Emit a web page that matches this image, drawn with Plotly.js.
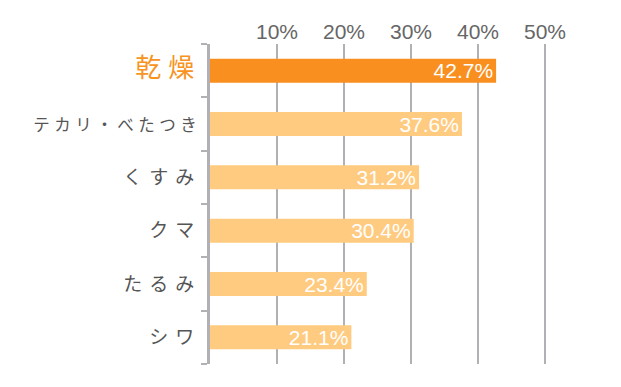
<!DOCTYPE html>
<html>
<head>
<meta charset="utf-8">
<script src="https://cdn.plot.ly/plotly-3.0.1.min.js"></script>
<style>
html,body{margin:0;padding:0;background:#fff;}
#chart{width:621px;height:387px;}
.ytick text{letter-spacing:7px;}
</style>
</head>
<body>
<div id="chart"></div>
<script>
const categories = ["乾燥", "テカリ・べたつき", "くすみ", "クマ", "たるみ", "シワ"];
const values = [42.7, 37.6, 31.2, 30.4, 23.4, 21.1];
const xTickVals = [10, 20, 30, 40, 50];
const xTickText = ["10%", "20%", "30%", "40%", "50%"];

const barColors = categories.map((c, i) => i === 0 ? "#f98f1f" : "#ffcb80");
const yTickText = categories.map((c, i) => {
  if (i === 0) return '<span style="color:#f7931e;font-size:26px">' + c + '</span>';
  if (c.length > 4) return '<span style="font-size:16.5px;letter-spacing:4.5px">' + c + '</span>';
  return c;
});

const trace = {
  type: "bar",
  orientation: "h",
  y: categories,
  x: values,
  marker: {color: barColors},
  text: values.map(v => v.toFixed(1) + "%"),
  textposition: "inside",
  insidetextanchor: "end",
  constraintext: "none",
  textfont: {color: "#ffffff", size: 21, family: "Liberation Sans, Arial, sans-serif"},
  cliponaxis: false,
  hoverinfo: "none"
};

const layout = {
  width: 621,
  height: 387,
  margin: {l: 210, r: 9, t: 44, b: 23},
  paper_bgcolor: "#ffffff",
  plot_bgcolor: "#ffffff",
  showlegend: false,
  bargap: 0.55,
  xaxis: {
    side: "top",
    range: [0, 60],
    tickvals: xTickVals,
    ticktext: xTickText,
    showgrid: true,
    gridcolor: "#b3b0b5",
    gridwidth: 2,
    zeroline: false,
    showline: false,
    ticks: "",
    ticklabelstandoff: 0,
    tickfont: {size: 21, color: "#666666", family: "Liberation Sans, Arial, sans-serif"},
    fixedrange: true
  },
  yaxis: {
    type: "category",
    autorange: false,
    range: [5.5, -0.5],
    tickvals: categories,
    ticktext: yTickText,
    tickson: "boundaries",
    ticks: "outside",
    ticklen: 6,
    tickwidth: 2,
    tickcolor: "#b3b0b5",
    showline: true,
    linecolor: "#b3b0b5",
    linewidth: 3,
    showgrid: false,
    tickfont: {size: 19, color: "#555555", family: "Noto Sans CJK JP, sans-serif"},
    ticklabelstandoff: 2,
    fixedrange: true
  }
};

Plotly.newPlot("chart", [trace], layout, {displayModeBar: false, staticPlot: true});
</script>
</body>
</html>
